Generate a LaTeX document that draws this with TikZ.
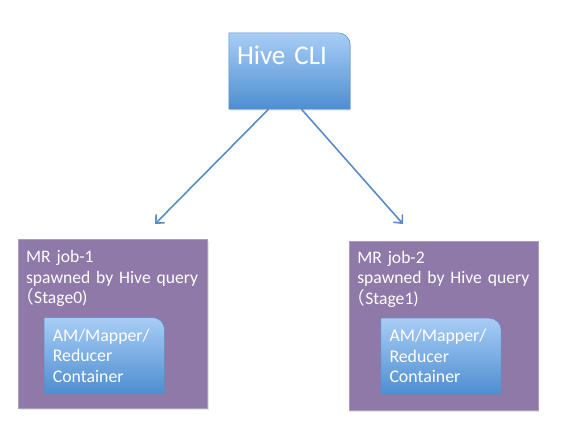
\documentclass[tikz,border=0pt]{standalone}
\usepackage{fontspec}
\setmainfont{Carlito}
\newfontfamily\cjk{Noto Sans CJK JP}
\usetikzlibrary{arrows.meta,backgrounds,shadows,positioning,math}
\definecolor{jobpurple}{RGB}{143,121,168}
\definecolor{jobedge}{RGB}{168,158,192}
\definecolor{boxtop}{RGB}{168,205,246}
\definecolor{boxbottom}{RGB}{78,142,208}
\definecolor{boxedge}{RGB}{92,140,198}
\definecolor{arrowblue}{RGB}{88,140,200}

\newcommand{\fwparen}{\hspace{-9.5pt}{\cjk （}}

\begin{document}
\begin{tikzpicture}[x=1pt,y=-1pt]

\tikzmath{
	\R = 12;
}

\tikzset{job box/.style={
    draw=jobedge, line width=0.6pt, fill=jobpurple,
    minimum width=#1, minimum height=169pt, inner sep=0pt,
    drop shadow={shadow xshift=1pt, shadow yshift=-1.5pt, opacity=0.2}
  },
  job box/.default=189pt,
  job text/.style={
    text=white, font=\fontsize{17.6}{20.6}\selectfont,
    text width=180pt, align=left, inner sep=0pt, anchor=base west
  },
  cli box/.style={
    text=white, font=\fontsize{27}{32}\selectfont,
    text width=105pt, align=left,
    inner xsep=8pt, inner ysep=0pt,
    text height=31pt, text depth=45pt
  },
  container/.style={
    text=white, font=\fontsize{17.8}{20.6}\selectfont,
    text width=103pt, align=left,
    inner xsep=8.5pt, inner ysep=0pt,
    text height=23.3pt, text depth=52.3pt
  },
  blue shade/.style={
    top color=boxtop, bottom color=boxbottom, draw=boxedge, line width=0.5pt,
    drop shadow={shadow xshift=1pt, shadow yshift=-1.5pt, opacity=0.2}
  },
  spawn/.style={
    draw=arrowblue, line width=1.6pt,
    -{Straight Barb[length=6.5pt,width=12pt]}
  }
}

\useasboundingbox (0,0) rectangle (562,432);

\begin{scope}[on background layer]
\node[job box] (job1) at (113,323.5) {};
\node[job box] (job2) at (443.5,326) {};
\end{scope}

\node[job text] (job1txt) at ([shift={(7.7,23.7)}]job1.north west)
  {MR job-1\\spawned by Hive query\\\fwparen Stage0)};
\node[job text] (job2txt) at ([shift={(8.4,22)}]job2.north west)
  {MR job-2\\spawned by Hive query\\\fwparen Stage1)};

\node[cli box] (cli) at (289.5,71) {Hive CLI};
\node[container] (cont1) at (104.3,355.5) {AM/Mapper/\\Reducer\\Container};
\node[container] (cont2) at (441,356.2) {AM/Mapper/\\Reducer\\Container};

% rounded top right corner only
\begin{scope}[on background layer]
\foreach \n in {cli,cont1,cont2}
  \shade[blue shade] (\n.south west) -- (\n.north west)
    -- ([xshift=-\R pt]\n.north east) arc[start angle=90,end angle=0,radius=\R pt]
    -- (\n.south east) -- cycle;
\end{scope}

\coordinate (end1) at (155,224);
\coordinate (end2) at (403,224);
\draw[spawn] ([xshift=-21pt]cli.south) -- (end1);
\draw[spawn] ([xshift=12pt]cli.south) -- (end2);

\end{tikzpicture}
\end{document}
